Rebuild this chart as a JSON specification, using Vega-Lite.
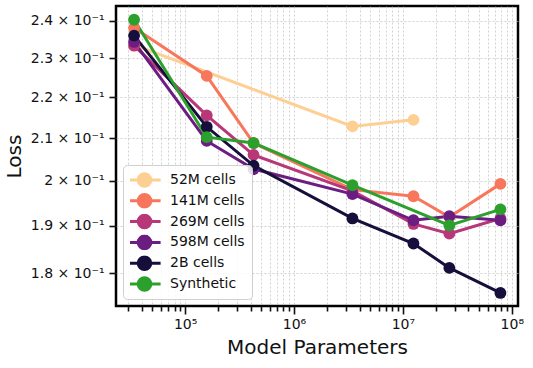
{
  "$schema": "https://vega.github.io/schema/vega-lite/v6.json",
  "width": 402,
  "height": 300,
  "autosize": "none",
  "padding": {"left": 116, "top": 6, "right": 15, "bottom": 62},
  "background": "white",
  "config": {
    "font": "DejaVu Sans",
    "view": {"stroke": "black", "strokeWidth": 2.5},
    "axis": {"domain": false, "labelFont": "DejaVu Sans", "titleFont": "DejaVu Sans", "labelColor": "#111111", "titleColor": "#111111", "titleFontWeight": "normal", "labelFontSize": 14, "titleFontSize": 20, "tickColor": "#111111", "tickWidth": 1.6, "gridColor": "#b8b8b8", "gridDash": [2, 2], "gridWidth": 0.8, "gridOpacity": 0.8}
  },
  "data": {"values": [
    {"series": "52M cells", "params": 34000, "loss": 0.2335},
    {"series": "52M cells", "params": 3440000, "loss": 0.2128},
    {"series": "52M cells", "params": 12500000, "loss": 0.2144},
    {"series": "141M cells", "params": 34000, "loss": 0.2381},
    {"series": "141M cells", "params": 158000, "loss": 0.2254},
    {"series": "141M cells", "params": 425000, "loss": 0.2088},
    {"series": "141M cells", "params": 3440000, "loss": 0.198},
    {"series": "141M cells", "params": 12500000, "loss": 0.1965},
    {"series": "141M cells", "params": 26700000, "loss": 0.1919},
    {"series": "141M cells", "params": 78600000, "loss": 0.1993},
    {"series": "269M cells", "params": 34000, "loss": 0.2333},
    {"series": "269M cells", "params": 158000, "loss": 0.2155},
    {"series": "269M cells", "params": 425000, "loss": 0.206},
    {"series": "269M cells", "params": 3440000, "loss": 0.1977},
    {"series": "269M cells", "params": 12500000, "loss": 0.1904},
    {"series": "269M cells", "params": 26700000, "loss": 0.1883},
    {"series": "269M cells", "params": 78600000, "loss": 0.1916},
    {"series": "598M cells", "params": 34000, "loss": 0.2343},
    {"series": "598M cells", "params": 158000, "loss": 0.2093},
    {"series": "598M cells", "params": 425000, "loss": 0.2027},
    {"series": "598M cells", "params": 3440000, "loss": 0.197},
    {"series": "598M cells", "params": 12500000, "loss": 0.1912},
    {"series": "598M cells", "params": 26700000, "loss": 0.1921},
    {"series": "598M cells", "params": 78600000, "loss": 0.1912},
    {"series": "2B cells", "params": 34000, "loss": 0.236},
    {"series": "2B cells", "params": 158000, "loss": 0.2127},
    {"series": "2B cells", "params": 425000, "loss": 0.2035},
    {"series": "2B cells", "params": 3440000, "loss": 0.1916},
    {"series": "2B cells", "params": 12500000, "loss": 0.1862},
    {"series": "2B cells", "params": 26700000, "loss": 0.1811},
    {"series": "2B cells", "params": 78600000, "loss": 0.176},
    {"series": "Synthetic", "params": 34000, "loss": 0.2403},
    {"series": "Synthetic", "params": 158000, "loss": 0.2102},
    {"series": "Synthetic", "params": 425000, "loss": 0.2088},
    {"series": "Synthetic", "params": 3440000, "loss": 0.199},
    {"series": "Synthetic", "params": 26700000, "loss": 0.1901},
    {"series": "Synthetic", "params": 78600000, "loss": 0.1936}
  ]},
  "encoding": {
    "x": {"field": "params", "type": "quantitative",
      "scale": {"type": "log", "domain": [23200, 114000000], "nice": false},
      "axis": {"title": "Model Parameters", "values": [30000,40000,50000,60000,70000,80000,90000,100000,200000,300000,400000,500000,600000,700000,800000,900000,1000000,2000000,3000000,4000000,5000000,6000000,7000000,8000000,9000000,10000000,20000000,30000000,40000000,50000000,60000000,70000000,80000000,90000000,100000000],
        "labelExpr": "datum.value == 100000 ? '10⁵' : datum.value == 1000000 ? '10⁶' : datum.value == 10000000 ? '10⁷' : datum.value == 100000000 ? '10⁸' : ''",
        "tickSize": {"condition": {"test": "datum.value == 100000 || datum.value == 1000000 || datum.value == 10000000 || datum.value == 100000000", "value": 8}, "value": 5},
        "labelPadding": 3, "titlePadding": 6, "labelFlush": false, "labelOverlap": false}},
    "y": {"field": "loss", "type": "quantitative",
      "scale": {"type": "log", "domain": [0.1734, 0.2441], "nice": false, "zero": false},
      "axis": {"title": "Loss", "values": [0.18, 0.19, 0.2, 0.21, 0.22, 0.23, 0.24],
        "labelExpr": "datum.value == 0.2 ? '2 × 10⁻¹' : format(datum.value * 10, '.1f') + ' × 10⁻¹'",
        "tickSize": 7, "labelPadding": 5, "titlePadding": 6, "labelOverlap": false}},
    "color": {"field": "series", "type": "nominal",
      "scale": {"domain": ["52M cells", "141M cells", "269M cells", "598M cells", "2B cells", "Synthetic"],
        "range": ["#fecf92", "#f8765c", "#b73779", "#6b1d81", "#160f3b", "#2ca02c"]},
      "legend": {"title": null, "orient": "none", "legendX": 7, "legendY": 159,
        "symbolType": "M-2.3,0H2.3M-0.9,0a0.9,0.9 0 1,0 1.8,0a0.9,0.9 0 1,0 -1.8,0",
        "symbolSize": 196, "symbolStrokeWidth": 3, "labelFontSize": 14, "labelFont": "DejaVu Sans", "labelColor": "#111111",
        "clipHeight": 16,
        "fillColor": "rgba(255,255,255,0.85)", "strokeColor": "#d0d0d0", "cornerRadius": 4, "padding": 7, "rowPadding": 4.8, "labelOffset": 17, "symbolOffset": 6,
        "encode": {"symbols": {"update": {"fill": {"scale": "color", "field": "value"}, "stroke": {"scale": "color", "field": "value"}, "fillOpacity": {"value": 1}, "opacity": {"value": 1}}}}}}
  },
  "layer": [
    {"mark": {"type": "line", "strokeWidth": 3, "clip": true}},
    {"mark": {"type": "point", "filled": true, "size": 140, "opacity": 1, "clip": true}}
  ]
}
